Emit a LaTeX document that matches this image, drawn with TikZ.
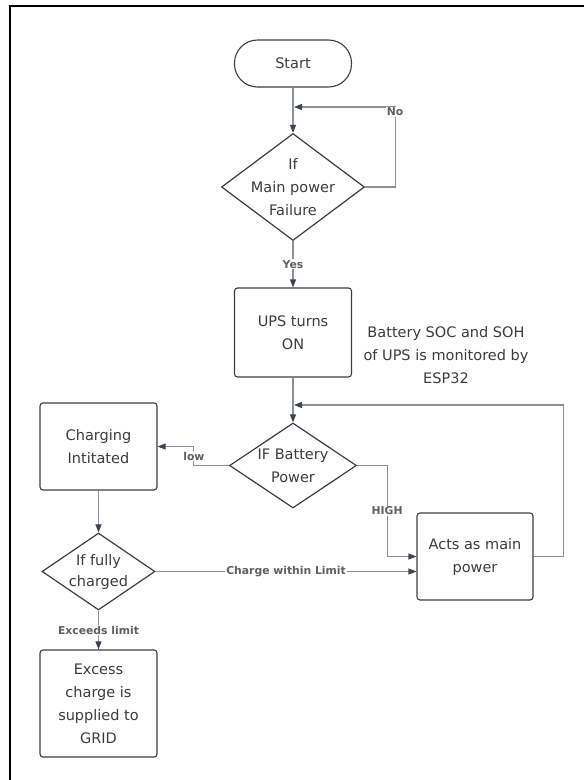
\documentclass[tikz,border=0pt]{standalone}
\usepackage{fontspec}
\setmainfont{DejaVu Sans}
\usepackage{tikz}
\usetikzlibrary{arrows.meta,positioning,shapes.geometric,calc}
\usepackage{xcolor}
\definecolor{boxc}{HTML}{3A3D42}
\definecolor{linec}{HTML}{8C9098}
\definecolor{tipc}{HTML}{3D4450}
\definecolor{txtc}{HTML}{3C3C3C}
\definecolor{lblc}{HTML}{606060}

\begin{document}
\begin{tikzpicture}[x=1pt,y=-1pt,
  proc/.style={draw=boxc,rectangle,rounded corners=3pt,minimum width=117pt,minimum height=88pt,
               line width=1.1pt,font=\fontsize{14.5}{23}\selectfont,text=txtc,align=center},
  term/.style={draw=boxc,rectangle,rounded corners=23pt,minimum width=117pt,minimum height=47pt,
               line width=1.1pt,font=\fontsize{14.5}{23}\selectfont,text=txtc},
  dec/.style={draw=boxc,diamond,inner sep=0pt,line width=1.2pt},
  dtext/.style={font=\fontsize{14.5}{23}\selectfont,text=txtc,align=center},
  lbl/.style={fill=white,inner sep=1pt,font=\fontsize{10.8}{12}\selectfont\bfseries,text=lblc},
  arr/.style={-{Triangle[length=8pt,width=6pt,color=tipc]},line width=1.1pt,color=linec}
]
\useasboundingbox (0,0) rectangle (584,780);

% Frame
\draw[line width=2pt,black] (9.5,780) -- (9.5,5.5) -- (584,5.5);

% Main column
\node[term] (start) at (293,63.5) {Start};
\node[dec,minimum width=143pt,minimum height=107pt,
      label={[dtext]center:{If\\Main power\\Failure}}] (fail) at (293,187) {};
\node[proc,minimum height=89pt] (ups) at (293,332.5) {UPS turns\\ON};
\node[dtext] (note) at (446,355) {Battery SOC and SOH\\of UPS is monitored by\\ESP32};
\node[dec,minimum width=127pt,minimum height=85pt,
      label={[dtext]center:{IF Battery\\Power}}] (batt) at (293,465.5) {};
\node[proc,minimum width=116pt,minimum height=87pt] (acts) at (475,556.5) {Acts as main\\power};

% Left column
\node[proc,minimum height=87pt] (charge) at (98.5,446.5) {Charging\\Intitated};
\node[dec,minimum width=113pt,minimum height=77pt,
      label={[dtext,font=\fontsize{14.5}{21}\selectfont]center:{If fully\\charged}}] (full) at (98.5,571.5) {};
\node[proc,minimum height=107pt] (grid) at (98.5,703.5) {Excess\\charge is\\supplied to\\GRID};

% Loop entry points
\coordinate (noin) at (294,107);
\coordinate (loopin) at (294,405);

% Connectors
\draw[arr] (start) -- (fail);
\draw[arr] (fail.east) -- ++(30,0) |- node[lbl,pos=0.47] {No} (noin);
\draw[arr] (fail) -- node[lbl] {Yes} (ups);
\draw[arr] (ups) -- (batt);
\draw[arr] (batt.west) -- ++(-35,0) |- node[lbl,pos=0.25] {low} (charge.east);
\draw[arr] (batt.east) -- ++(30,0) |- node[lbl,pos=0.25] {HIGH} (acts.west);
\draw[arr] (acts.east) -- ++(30,0) |- (loopin);
\draw[arr] (charge) -- (full);
\draw[arr] (full.east) -- node[lbl] {Charge within Limit} (full.east -| acts.west);
\draw[arr] (full) -- node[lbl] {Exceeds limit} (grid);

\end{tikzpicture}
\end{document}
